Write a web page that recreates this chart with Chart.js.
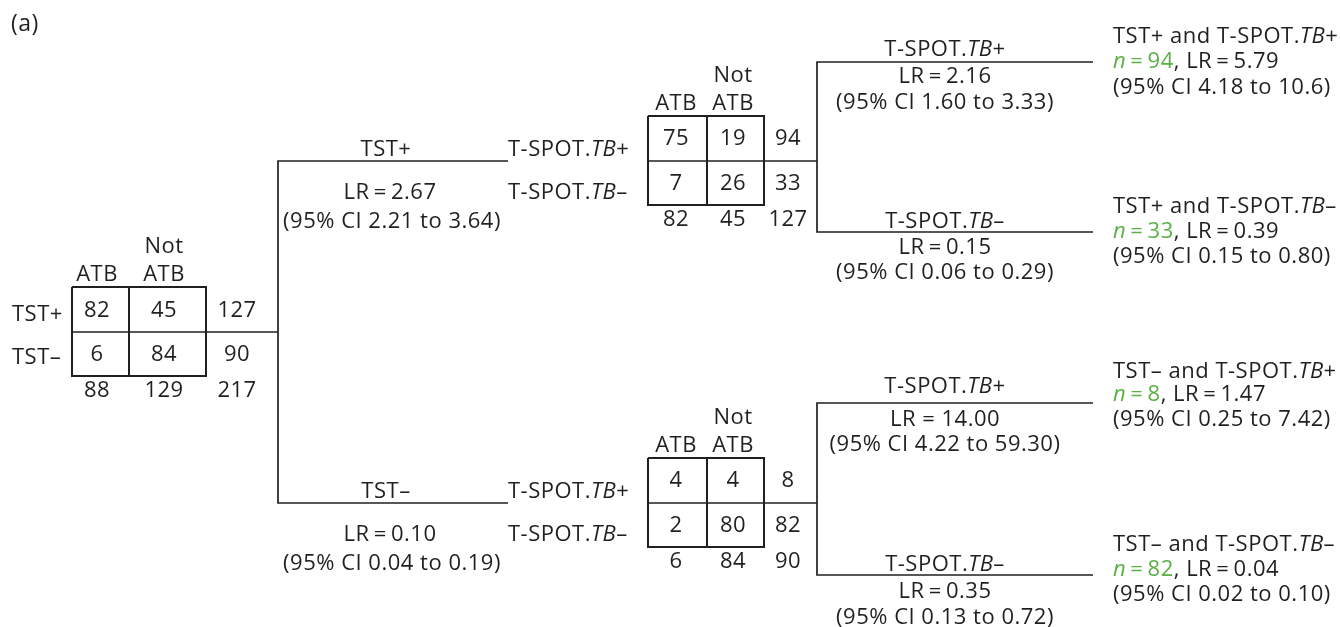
<!DOCTYPE html>
<html><head><meta charset="utf-8">
<script src="https://cdn.jsdelivr.net/npm/chart.js@4"></script>
<style>html,body{margin:0;padding:0;background:#fff}#wrap{width:1340px;height:627px;position:relative}</style>
</head><body><div id="wrap"><canvas id="c" width="1340" height="627"></canvas></div>
<script>
// ---------- DATA ----------
const colLabels = ["ATB", "Not ATB"];
const rootRowLabels = ["TST+", "TST\u2013"];
const subRowLabels = [[["T-SPOT.", ""], ["TB", "i"], ["+", ""]], [["T-SPOT.", ""], ["TB", "i"], ["\u2013", ""]]];
const rootCounts = [[82, 45], [6, 84]];
const tstPosCounts = [[75, 19], [7, 26]];
const tstNegCounts = [[4, 4], [2, 80]];
const branchNames = ["TST+", "TST\u2013"];
const branchLR = ["2.67", "0.10"];
const branchCI = [["2.21", "3.64"], ["0.04", "0.19"]];
const subNames = ["+", "\u2013", "+", "\u2013"];
const subLR = ["2.16", "0.15", "14.00", "0.35"];
const subCI = [["1.60", "3.33"], ["0.06", "0.29"], ["4.22", "59.30"], ["0.13", "0.72"]];
const finalTST = ["TST+", "TST+", "TST\u2013", "TST\u2013"];
const finalTSPOT = ["+", "\u2013", "+", "\u2013"];
const finalN = [94, 33, 8, 82];
const finalLR = ["5.79", "0.39", "1.47", "0.04"];
const finalCI = [["4.18", "10.6"], ["0.15", "0.80"], ["0.25", "7.42"], ["0.02", "0.10"]];

// ---------- LAYOUT (positions only) ----------
const INK = "#231f20";
const GREEN = "#5bb047";
const FS = 22;
const LS = 0.5;
const FAM = "'Open Sans', 'Noto Sans', sans-serif";
const rootT = { l: 72, d: 129, r: 206, m: 332, cx: [97, 164, 237], join: 278 };
const subT = [
  { l: 648, d: 707, r: 764, m: 161, cx: [676, 733, 788], join: 817 },
  { l: 648, d: 707, r: 764, m: 503, cx: [676, 733, 788], join: 817 }
];
const leftBr = { x: 278, end: 508, lblX: 392 };
const rightBr = [
  { top: 62, bot: 232 },
  { top: 403, bot: 575 }
];
const rightX = 817, rightEnd = 1093, rightLblX = 945, finalX = 1113;

// ---------- datasets (line work) ----------
function seg(pts, w) {
  return { data: pts.map(p => ({ x: p[0], y: p[1] })), showLine: true, borderColor: INK,
    borderWidth: w, pointRadius: 0, fill: false, tension: 0, borderJoinStyle: 'miter', borderCapStyle: 'butt' };
}
const datasets = [];
function tableLines(t) {
  const top = t.m - 45, bot = t.m + 44;
  datasets.push(seg([[t.l, top], [t.r, top], [t.r, bot], [t.l, bot], [t.l, top]], 2));
  datasets.push(seg([[t.d, top], [t.d, bot]], 2));
  datasets.push(seg([[t.l, t.m], [t.join, t.m]], 1.7));
}
tableLines(rootT); tableLines(subT[0]); tableLines(subT[1]);
datasets.push(seg([[leftBr.end, subT[0].m], [leftBr.x, subT[0].m], [leftBr.x, subT[1].m], [leftBr.end, subT[1].m]], 1.7));
rightBr.forEach(b => datasets.push(seg([[rightEnd, b.top], [rightX, b.top], [rightX, b.bot], [rightEnd, b.bot]], 1.7)));

// ---------- text plugin ----------
function font(style, size) {
  return (style && style.indexOf('i') >= 0 ? 'italic ' : '') + (size || FS) + 'px ' + FAM;
}
function textWidth(ctx, s) {
  ctx.letterSpacing = '0px';
  return ctx.measureText(s).width + LS * s.length;
}
function drawRich(ctx, xs, ys, parts, align, xv, yv, size) {
  const x = xs.getPixelForValue(xv), y = ys.getPixelForValue(yv);
  let w = 0;
  parts.forEach(p => { ctx.font = font(p[1], size); w += textWidth(ctx, p[0]); });
  let cx = align === 'center' ? x - w / 2 : (align === 'right' ? x - w : x);
  ctx.textAlign = 'left'; ctx.textBaseline = 'middle';
  parts.forEach(p => {
    ctx.font = font(p[1], size);
    const pw = textWidth(ctx, p[0]);
    ctx.fillStyle = p[1] && p[1].indexOf('g') >= 0 ? GREEN : INK;
    ctx.letterSpacing = LS + 'px';
    ctx.fillText(p[0], cx, y);
    cx += pw;
  });
  ctx.letterSpacing = '0px';
}
const TS = '\u2009';
const textPlugin = {
  id: 'treeText',
  afterDatasetsDraw(chart) {
    const ctx = chart.ctx, xs = chart.scales.x, ys = chart.scales.y;
    const T = (parts, align, x, y, size) => drawRich(ctx, xs, ys, typeof parts === 'string' ? [[parts, '']] : parts, align, x, y, size);
    ctx.save();
    T('(a)', 'left', 11, 24, 23);
    function table(t, counts, rowLbls, isRoot) {
      const hdr = colLabels[1].split(' ');
      T(hdr[0], 'center', t.cx[1], t.m - 85);
      T(colLabels[0], 'center', t.cx[0], t.m - 57);
      T(hdr[1], 'center', t.cx[1], t.m - 57);
      const ry = isRoot ? [t.m - 21, t.m + 23] : [t.m - 22, t.m + 23];
      counts.forEach((row, i) => {
        row.forEach((v, j) => T(String(v), 'center', t.cx[j], ry[i]));
        T(String(row[0] + row[1]), 'center', t.cx[2], ry[i]);
      });
      const c0 = counts[0][0] + counts[1][0], c1 = counts[0][1] + counts[1][1];
      const ty = t.m + 59;
      T(String(c0), 'center', t.cx[0], ty);
      T(String(c1), 'center', t.cx[1], ty);
      T(String(c0 + c1), 'center', t.cx[2], ty);
      if (isRoot) {
        T(rowLbls[0], 'left', 12, t.m - 17);
        T(rowLbls[1], 'left', 12, t.m + 26);
      } else {
        T(rowLbls[0], 'left', leftBr.end, t.m - 11);
        T(rowLbls[1], 'left', leftBr.end, t.m + 32);
      }
    }
    table(rootT, rootCounts, rootRowLabels, true);
    table(subT[0], tstPosCounts, subRowLabels, false);
    table(subT[1], tstNegCounts, subRowLabels, false);
    // left branch labels
    [0, 1].forEach(i => {
      const m = subT[i].m;
      T(branchNames[i], 'center', leftBr.lblX - 6, m - 11);
      T('LR' + TS + '=' + TS + branchLR[i], 'center', leftBr.lblX - 2, m + 32);
      T('(95% CI ' + branchCI[i][0] + ' to ' + branchCI[i][1] + ')', 'center', leftBr.lblX, m + 61);
    });
    // right branch labels
    const lineYs = [rightBr[0].top, rightBr[0].bot, rightBr[1].top, rightBr[1].bot];
    const offs = [[-12, 15, 41], [-10, 16, 41], [-16, 17, 42], [-10, 17, 43]];
    const finalY = [[37, 62, 88], [207, 232, 257], [372, 395, 420], [545, 570, 595]];
    lineYs.forEach((ly, k) => {
      T([['T-SPOT.', ''], ['TB', 'i'], [subNames[k], '']], 'center', rightLblX, ly + offs[k][0]);
      const sp = subLR[k].length > 4 ? ' ' : TS;
      T('LR' + sp + '=' + sp + subLR[k], 'center', rightLblX, ly + offs[k][1]);
      T('(95% CI ' + subCI[k][0] + ' to ' + subCI[k][1] + ')', 'center', rightLblX, ly + offs[k][2]);
      const fy = finalY[k];
      T([[finalTST[k] + ' and T-SPOT.', ''], ['TB', 'i'], [finalTSPOT[k], '']], 'left', finalX, fy[0]);
      T([['n', 'gi'], [TS + '=' + TS + finalN[k], 'g'], [', LR' + TS + '=' + TS + finalLR[k], '']], 'left', finalX, fy[1]);
      T('(95% CI ' + finalCI[k][0] + ' to ' + finalCI[k][1] + ')', 'left', finalX, fy[2]);
    });
    ctx.restore();
  }
};

new Chart(document.getElementById('c'), {
  type: 'scatter',
  data: { datasets },
  options: {
    responsive: false, animation: false, devicePixelRatio: 1,
    layout: { padding: 0 },
    plugins: { legend: { display: false }, tooltip: { enabled: false }, title: { display: false } },
    scales: {
      x: { type: 'linear', min: 0, max: 1340, display: false },
      y: { type: 'linear', min: 0, max: 627, reverse: true, display: false }
    }
  },
  plugins: [textPlugin]
});
</script></body></html>
